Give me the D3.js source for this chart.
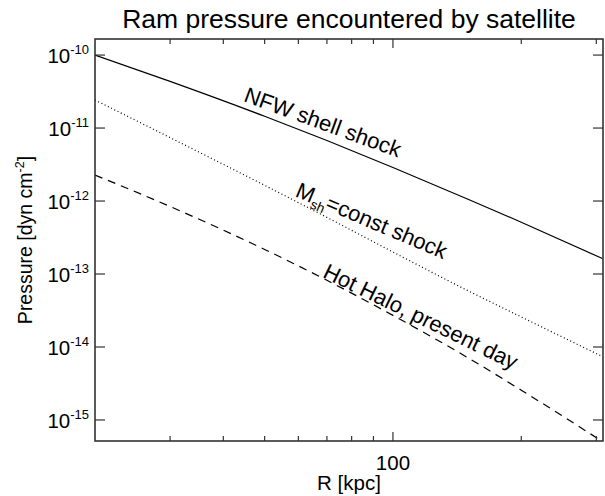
<!DOCTYPE html>
<html>
<head>
<meta charset="utf-8">
<script src="https://cdn.jsdelivr.net/npm/d3@7"></script>
<style>
  body { margin: 0; background: #fff; }
  svg { font-family: "Liberation Sans", Arial, sans-serif; }
</style>
</head>
<body>
<svg id="chart" width="605" height="496"></svg>
<script>
// radius along the orbit [kpc]
const radius = [20, 30, 50, 70, 100, 150, 200, 310];
// ram pressure [dyn cm^-2]
const nfwShell = [1.0e-10, 4.36e-11, 1.45e-11, 6.75e-12, 2.88e-12, 1.06e-12, 5.13e-13, 1.63e-13];
const mshConst = [2.42e-11, 7.4e-12, 1.64e-12, 5.97e-13, 2.0e-13, 5.9e-14, 2.58e-14, 7.4e-15];
const hotHalo = [2.27e-12, 8.41e-13, 2.17e-13, 8.2e-14, 2.71e-14, 7.11e-15, 2.56e-15, 5.07e-16];

const yDecades = [-15, -14, -13, -12, -11, -10];
const xMajor = [100];
const xMinor = [30, 40, 50, 60, 70, 80, 90, 200, 300];

const svg = d3.select("#chart");
const plotL = 95, plotR = 603, plotT = 39, plotB = 441;

const x = d3.scaleLog().domain([20, 311]).range([plotL, plotR]);
const y = d3.scaleLog().domain([5.15e-16, 1.66e-10]).range([plotB, plotT]);

svg.append("defs").append("clipPath").attr("id", "clip")
  .append("rect")
  .attr("x", plotL).attr("y", plotT)
  .attr("width", plotR - plotL).attr("height", plotB - plotT);

// title
svg.append("text")
  .attr("x", (plotL + plotR) / 2)
  .attr("y", 28)
  .attr("text-anchor", "middle")
  .attr("font-size", 26.5)
  .text("Ram pressure encountered by satellite");

// series
const line = d3.line()
  .x((d) => x(d[0]))
  .y((d) => y(d[1]))
  .curve(d3.curveMonotoneX);

const series = [
  { vals: nfwShell, dash: null },
  { vals: mshConst, dash: "1,2.6" },
  { vals: hotHalo, dash: "8,6" },
];

svg.append("g").attr("clip-path", "url(#clip)")
  .selectAll("path")
  .data(series)
  .enter()
  .append("path")
  .attr("d", (s) => line(radius.map((r, i) => [r, s.vals[i]])))
  .attr("fill", "none")
  .attr("stroke", "#000")
  .attr("stroke-width", 1.2)
  .attr("stroke-dasharray", (s) => s.dash);

// frame
svg.append("rect")
  .attr("x", plotL).attr("y", plotT)
  .attr("width", plotR - plotL).attr("height", plotB - plotT)
  .attr("fill", "none")
  .attr("stroke", "#333")
  .attr("stroke-width", 1.6);

// x ticks, bottom and top
const xTicks = xMajor.map((v) => ({ v: v, len: 9 }))
  .concat(xMinor.map((v) => ({ v: v, len: 5 })));
const tickG = svg.append("g").attr("stroke", "#333").attr("stroke-width", 1.2);
tickG.selectAll("line.xb")
  .data(xTicks)
  .enter()
  .append("line")
  .attr("class", "xb")
  .attr("x1", (d) => x(d.v)).attr("x2", (d) => x(d.v))
  .attr("y1", plotB).attr("y2", (d) => plotB - d.len);
tickG.selectAll("line.xt")
  .data(xTicks)
  .enter()
  .append("line")
  .attr("class", "xt")
  .attr("x1", (d) => x(d.v)).attr("x2", (d) => x(d.v))
  .attr("y1", plotT).attr("y2", (d) => plotT + d.len);

// y ticks, left and right
tickG.selectAll("line.yl")
  .data(yDecades)
  .enter()
  .append("line")
  .attr("class", "yl")
  .attr("x1", plotL).attr("x2", plotL + 10)
  .attr("y1", (d) => y(Math.pow(10, d))).attr("y2", (d) => y(Math.pow(10, d)));
tickG.selectAll("line.yr")
  .data(yDecades)
  .enter()
  .append("line")
  .attr("class", "yr")
  .attr("x1", plotR).attr("x2", plotR - 10)
  .attr("y1", (d) => y(Math.pow(10, d))).attr("y2", (d) => y(Math.pow(10, d)));

// x tick labels
svg.selectAll("text.xl")
  .data(xMajor)
  .enter()
  .append("text")
  .attr("class", "xl")
  .attr("x", (d) => x(d))
  .attr("y", 470)
  .attr("text-anchor", "middle")
  .attr("font-size", 20.5)
  .text((d) => d);

// y tick labels 10^n
const yl = svg.selectAll("text.ylab")
  .data(yDecades)
  .enter()
  .append("text")
  .attr("class", "ylab")
  .attr("x", plotL - 6)
  .attr("y", (d) => y(Math.pow(10, d)) + 8)
  .attr("text-anchor", "end")
  .attr("font-size", 20.5);
yl.append("tspan").text("10");
yl.append("tspan")
  .attr("dy", -9)
  .attr("font-size", 13)
  .text((d) => d);

// axis titles
svg.append("text")
  .attr("x", (plotL + plotR) / 2)
  .attr("y", 490)
  .attr("text-anchor", "middle")
  .attr("font-size", 20.5)
  .text("R [kpc]");

const yt = svg.append("text")
  .attr("transform", "translate(32," + (plotT + plotB) / 2 + ") rotate(-90)")
  .attr("text-anchor", "middle")
  .attr("font-size", 19.5);
yt.append("tspan").text("Pressure [dyn cm");
yt.append("tspan").attr("dy", -8).attr("font-size", 12.5).text("-2");
yt.append("tspan").attr("dy", 8).text("]");

// curve labels
const labels = [
  { r: 44.4, p: 2.34e-11, angle: 20, parts: [["NFW shell shock", 0, 22]] },
  { r: 58.7, p: 1.17e-12, angle: 23, parts: [["M", 0, 22], ["sh", 5, 13.5], ["=const shock", -5, 22]] },
  { r: 68.1, p: 9.2e-14, angle: 26, parts: [["Hot Halo, present day", 0, 22]] },
];

labels.forEach((l) => {
  const t = svg.append("text")
    .attr("transform", "translate(" + x(l.r) + "," + y(l.p) + ") rotate(" + l.angle + ")")
    .attr("font-size", 22);
  l.parts.forEach((p) => {
    t.append("tspan")
      .attr("dy", p[1])
      .attr("font-size", p[2])
      .text(p[0]);
  });
});
</script>
</body>
</html>
